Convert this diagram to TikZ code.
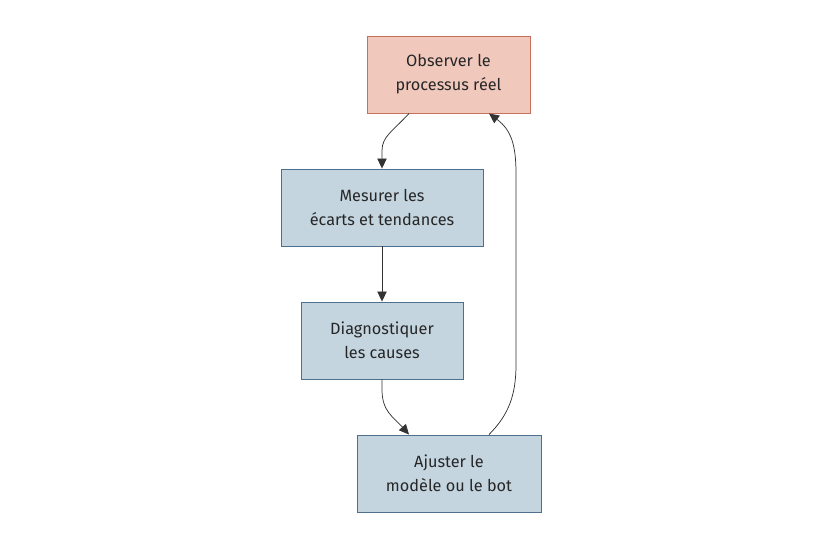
\documentclass[tikz,border=0pt]{standalone}
\usepackage{fontspec}
\setmainfont{Fira Sans}
\usetikzlibrary{arrows.meta,calc}
\definecolor{redfill}{HTML}{F0C8BC}
\definecolor{redline}{HTML}{C8705F}
\definecolor{bluefill}{HTML}{C4D5E0}
\definecolor{blueline}{HTML}{4F6F8F}
\definecolor{txt}{HTML}{262626}
\tikzset{
  box/.style={draw, line width=0.7pt, minimum height=77*0.75pt, inner sep=0pt, align=center,
    font=\fontsize{12.2pt}{18pt}\selectfont, text=txt},
  redbox/.style={box, fill=redfill, draw=redline},
  bluebox/.style={box, fill=bluefill, draw=blueline},
  link/.style={draw=black!80, line width=0.55pt, -{Triangle[length=7.5pt,width=7pt]}},
}
\begin{document}
\begin{tikzpicture}[x=0.75pt,y=-0.75pt]
\useasboundingbox (0,0) rectangle (823,549);
\node[redbox, minimum width=163*0.75pt] (obs) at (448.5,74.5) {Observer le\\processus réel};
\node[bluebox, minimum width=202*0.75pt] (mes) at (382,207.5) {Mesurer les\\écarts et tendances};
\node[bluebox, minimum width=162*0.75pt] (dia) at (382,340.5) {Diagnostiquer\\les causes};
\node[bluebox, minimum width=184*0.75pt] (aju) at (449,473.5) {Ajuster le\\modèle ou le bot};
\draw[link] ($(obs.south)+(-39.5,0)$) .. controls ($(obs.south)+(-56,18)$) and ($(mes.north)+(0,-32)$) .. ($(mes.north)+(0,-18)$) -- (mes.north);
\draw[link] (mes.south) -- (dia.north);
\draw[link] (dia.south) -- ($(dia.south)+(0,10)$) .. controls ($(dia.south)+(0,32)$) and ($(aju.north)+(-56,-18)$) .. ($(aju.north)+(-40,0)$);
\draw[link] ($(aju.north)+(40,0)$) .. controls ($(aju.north)+(60,-20)$) and ($(aju.north)+(67,-40)$) .. ($(aju.north)+(67,-70)$)
  -- ($(obs.south)+(67.5,60)$) .. controls ($(obs.south)+(67.5,30)$) and ($(obs.south)+(62,16)$) .. ($(obs.south)+(40.5,0)$);
\end{tikzpicture}
\end{document}
